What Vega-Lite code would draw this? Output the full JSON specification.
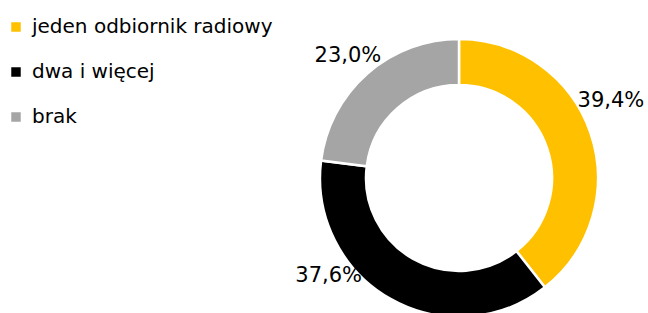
{
  "$schema": "https://vega.github.io/schema/vega-lite/v6.json",
  "width": 278,
  "height": 278,
  "autosize": {"type": "none"},
  "padding": {"left": 320, "top": 39, "right": 50, "bottom": 0},
  "background": "white",
  "config": {"view": {"stroke": null}, "font": "DejaVu Sans"},
  "data": {
    "values": [
      {"kategoria": "jeden odbiornik radiowy", "udzial": 39.4, "etykieta": "39,4%", "kolejnosc": 1},
      {"kategoria": "dwa i więcej", "udzial": 37.6, "etykieta": "37,6%", "kolejnosc": 2},
      {"kategoria": "brak", "udzial": 23.0, "etykieta": "23,0%", "kolejnosc": 3}
    ]
  },
  "encoding": {
    "theta": {"field": "udzial", "type": "quantitative", "stack": true},
    "order": {"field": "kolejnosc", "type": "quantitative"}
  },
  "layer": [
    {
      "mark": {"type": "arc", "outerRadius": 139, "innerRadius": 93, "stroke": "white", "strokeWidth": 2.5},
      "encoding": {
        "color": {
          "field": "kategoria",
          "type": "nominal",
          "scale": {"domain": ["jeden odbiornik radiowy", "dwa i więcej", "brak"], "range": ["#FFC000", "#000000", "#A5A5A5"]},
          "legend": {
            "orient": "none",
            "legendX": -314,
            "legendY": -22,
            "title": null,
            "symbolType": "square",
            "symbolSize": 90,
            "symbolStrokeWidth": 0,
            "labelFontSize": 20,
            "labelColor": "#000000",
            "labelOffset": 6,
            "labelLimit": 0,
            "rowPadding": 25
          }
        }
      }
    },
    {
      "mark": {"type": "text", "radius": 165, "dx": -4, "dy": -23, "fontSize": 21, "color": "#000000"},
      "encoding": {"text": {"condition": {"test": "datum.kolejnosc === 1", "field": "etykieta"}, "value": ""}}
    },
    {
      "mark": {"type": "text", "radius": 165, "dx": -49, "dy": -46, "fontSize": 21, "color": "#000000"},
      "encoding": {"text": {"condition": {"test": "datum.kolejnosc === 2", "field": "etykieta"}, "value": ""}}
    },
    {
      "mark": {"type": "text", "radius": 165, "dx": -2, "dy": 2, "fontSize": 21, "color": "#000000"},
      "encoding": {"text": {"condition": {"test": "datum.kolejnosc === 3", "field": "etykieta"}, "value": ""}}
    }
  ]
}
